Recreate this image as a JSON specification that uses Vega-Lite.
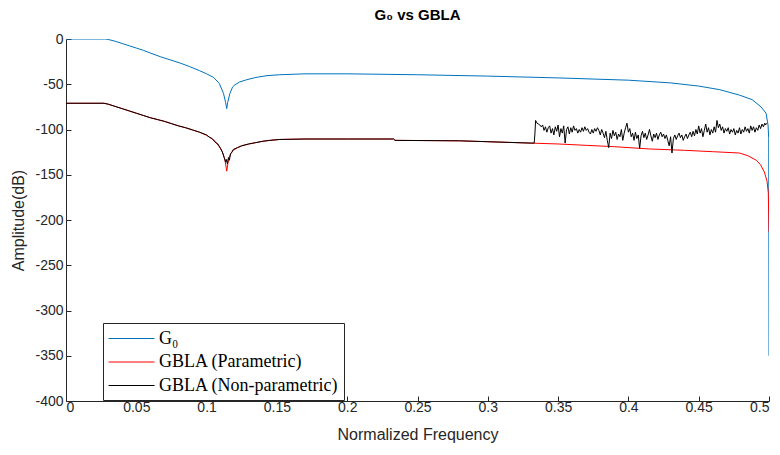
{
  "$schema": "https://vega.github.io/schema/vega-lite/v6.json",
  "autosize": {"type": "none"},
  "width": 703,
  "height": 362,
  "padding": {"left": 66, "top": 39, "right": 11, "bottom": 54},
  "background": "white",
  "title": {"text": "G₀ vs GBLA", "font": "Liberation Sans", "fontSize": 15, "fontWeight": "bold", "color": "black", "anchor": "middle", "offset": 9},
  "config": {
    "view": {"stroke": null},
    "axis": {"grid": false, "domainColor": "#262626", "tickColor": "#262626", "labelColor": "#262626", "titleColor": "#262626", "labelFont": "Liberation Sans", "titleFont": "Liberation Sans", "labelFontSize": 14, "titleFontSize": 16, "titleFontWeight": "normal", "tickSize": -5, "domainWidth": 1, "tickWidth": 1, "labelExpr": "replace(datum.label, '−', '-')"},
    "legend": {"orient": "none", "legendX": 37, "legendY": 284, "strokeColor": "#262626", "fillColor": "white", "padding": 5, "rowPadding": 3.5, "symbolType": "M-1,0H3.6", "symbolSize": 400, "symbolStrokeWidth": 1, "labelFont": "Liberation Serif", "labelFontSize": 18, "labelColor": "black", "labelOffset": 30, "labelLimit": 0, "title": null}
  },
  "data": {"values": [
    {"s":"G₀","f":0,"a":0},{"s":"G₀","f":0.028,"a":0},{"s":"G₀","f":0.03,"a":-0.5},{"s":"G₀","f":0.035,"a":-2.5},{"s":"G₀","f":0.04,"a":-5},{"s":"G₀","f":0.045,"a":-7.5},{"s":"G₀","f":0.05,"a":-10},{"s":"G₀","f":0.055,"a":-12.5},{"s":"G₀","f":0.06,"a":-15.5},{"s":"G₀","f":0.067,"a":-19.5},{"s":"G₀","f":0.074,"a":-23},{"s":"G₀","f":0.081,"a":-26.5},{"s":"G₀","f":0.088,"a":-30.5},{"s":"G₀","f":0.095,"a":-35},{"s":"G₀","f":0.1,"a":-38.5},{"s":"G₀","f":0.105,"a":-42.5},{"s":"G₀","f":0.109,"a":-49},{"s":"G₀","f":0.112,"a":-60},{"s":"G₀","f":0.1135,"a":-70},{"s":"G₀","f":0.1143,"a":-77},{"s":"G₀","f":0.115,"a":-70},{"s":"G₀","f":0.1166,"a":-60},{"s":"G₀","f":0.1185,"a":-53},{"s":"G₀","f":0.1202,"a":-50.5},{"s":"G₀","f":0.1235,"a":-47.5},{"s":"G₀","f":0.1285,"a":-45},{"s":"G₀","f":0.135,"a":-42.5},{"s":"G₀","f":0.143,"a":-40.5},{"s":"G₀","f":0.152,"a":-39.5},{"s":"G₀","f":0.17,"a":-38.5},{"s":"G₀","f":0.2,"a":-38.5},{"s":"G₀","f":0.25,"a":-39.5},{"s":"G₀","f":0.3,"a":-41},{"s":"G₀","f":0.35,"a":-43},{"s":"G₀","f":0.4,"a":-45.5},{"s":"G₀","f":0.43,"a":-48.5},{"s":"G₀","f":0.45,"a":-52},{"s":"G₀","f":0.465,"a":-56},{"s":"G₀","f":0.479,"a":-62},{"s":"G₀","f":0.488,"a":-67},{"s":"G₀","f":0.4943,"a":-75},{"s":"G₀","f":0.4979,"a":-82},{"s":"G₀","f":0.4993,"a":-95},{"s":"G₀","f":0.4998,"a":-110},{"s":"G₀","f":0.5,"a":-350},

    {"s":"GBLA (Parametric)","f":0,"a":-71},{"s":"GBLA (Parametric)","f":0.027,"a":-71},{"s":"GBLA (Parametric)","f":0.03,"a":-72},{"s":"GBLA (Parametric)","f":0.035,"a":-74.5},{"s":"GBLA (Parametric)","f":0.04,"a":-77},{"s":"GBLA (Parametric)","f":0.045,"a":-79.5},{"s":"GBLA (Parametric)","f":0.05,"a":-82},{"s":"GBLA (Parametric)","f":0.055,"a":-84.5},{"s":"GBLA (Parametric)","f":0.06,"a":-87},{"s":"GBLA (Parametric)","f":0.065,"a":-89},{"s":"GBLA (Parametric)","f":0.07,"a":-91},{"s":"GBLA (Parametric)","f":0.075,"a":-93.5},{"s":"GBLA (Parametric)","f":0.08,"a":-96},{"s":"GBLA (Parametric)","f":0.085,"a":-98},{"s":"GBLA (Parametric)","f":0.09,"a":-100.5},{"s":"GBLA (Parametric)","f":0.095,"a":-103},{"s":"GBLA (Parametric)","f":0.1,"a":-106.5},{"s":"GBLA (Parametric)","f":0.103,"a":-109.5},{"s":"GBLA (Parametric)","f":0.106,"a":-113},{"s":"GBLA (Parametric)","f":0.109,"a":-119},{"s":"GBLA (Parametric)","f":0.111,"a":-124},{"s":"GBLA (Parametric)","f":0.113,"a":-133},{"s":"GBLA (Parametric)","f":0.1143,"a":-146},{"s":"GBLA (Parametric)","f":0.1155,"a":-134},{"s":"GBLA (Parametric)","f":0.117,"a":-127},{"s":"GBLA (Parametric)","f":0.119,"a":-123},{"s":"GBLA (Parametric)","f":0.122,"a":-120},{"s":"GBLA (Parametric)","f":0.125,"a":-118},{"s":"GBLA (Parametric)","f":0.13,"a":-116},{"s":"GBLA (Parametric)","f":0.135,"a":-114.5},{"s":"GBLA (Parametric)","f":0.14,"a":-113},{"s":"GBLA (Parametric)","f":0.145,"a":-112},{"s":"GBLA (Parametric)","f":0.152,"a":-111},{"s":"GBLA (Parametric)","f":0.17,"a":-110.5},{"s":"GBLA (Parametric)","f":0.2,"a":-110.5},{"s":"GBLA (Parametric)","f":0.233,"a":-110.5},{"s":"GBLA (Parametric)","f":0.234,"a":-112},{"s":"GBLA (Parametric)","f":0.28,"a":-112.5},{"s":"GBLA (Parametric)","f":0.3,"a":-113.5},{"s":"GBLA (Parametric)","f":0.33,"a":-115},{"s":"GBLA (Parametric)","f":0.35,"a":-116},{"s":"GBLA (Parametric)","f":0.37,"a":-117.5},{"s":"GBLA (Parametric)","f":0.39,"a":-119},{"s":"GBLA (Parametric)","f":0.415,"a":-121.5},{"s":"GBLA (Parametric)","f":0.44,"a":-123},{"s":"GBLA (Parametric)","f":0.46,"a":-124.5},{"s":"GBLA (Parametric)","f":0.479,"a":-126},{"s":"GBLA (Parametric)","f":0.485,"a":-129},{"s":"GBLA (Parametric)","f":0.491,"a":-134},{"s":"GBLA (Parametric)","f":0.494,"a":-139},{"s":"GBLA (Parametric)","f":0.4967,"a":-147},{"s":"GBLA (Parametric)","f":0.4986,"a":-157},{"s":"GBLA (Parametric)","f":0.4995,"a":-170},{"s":"GBLA (Parametric)","f":0.5,"a":-213},

    {"s":"GBLA (Non-parametric)","f":0,"a":-71},{"s":"GBLA (Non-parametric)","f":0.027,"a":-71},{"s":"GBLA (Non-parametric)","f":0.03,"a":-72},{"s":"GBLA (Non-parametric)","f":0.035,"a":-74.5},{"s":"GBLA (Non-parametric)","f":0.04,"a":-77},{"s":"GBLA (Non-parametric)","f":0.045,"a":-79.5},{"s":"GBLA (Non-parametric)","f":0.05,"a":-82},{"s":"GBLA (Non-parametric)","f":0.055,"a":-84.5},{"s":"GBLA (Non-parametric)","f":0.06,"a":-87},{"s":"GBLA (Non-parametric)","f":0.065,"a":-89},{"s":"GBLA (Non-parametric)","f":0.07,"a":-91},{"s":"GBLA (Non-parametric)","f":0.075,"a":-93.5},{"s":"GBLA (Non-parametric)","f":0.08,"a":-96},{"s":"GBLA (Non-parametric)","f":0.085,"a":-98},{"s":"GBLA (Non-parametric)","f":0.09,"a":-100.5},{"s":"GBLA (Non-parametric)","f":0.095,"a":-103},{"s":"GBLA (Non-parametric)","f":0.1,"a":-106},{"s":"GBLA (Non-parametric)","f":0.102,"a":-108.5},{"s":"GBLA (Non-parametric)","f":0.104,"a":-110},{"s":"GBLA (Non-parametric)","f":0.106,"a":-114},{"s":"GBLA (Non-parametric)","f":0.108,"a":-116},{"s":"GBLA (Non-parametric)","f":0.11,"a":-121},{"s":"GBLA (Non-parametric)","f":0.1115,"a":-126},{"s":"GBLA (Non-parametric)","f":0.1125,"a":-131},{"s":"GBLA (Non-parametric)","f":0.1135,"a":-136},{"s":"GBLA (Non-parametric)","f":0.114,"a":-133},{"s":"GBLA (Non-parametric)","f":0.1148,"a":-138},{"s":"GBLA (Non-parametric)","f":0.1155,"a":-131},{"s":"GBLA (Non-parametric)","f":0.1162,"a":-134},{"s":"GBLA (Non-parametric)","f":0.117,"a":-127},{"s":"GBLA (Non-parametric)","f":0.118,"a":-125},{"s":"GBLA (Non-parametric)","f":0.119,"a":-122},{"s":"GBLA (Non-parametric)","f":0.122,"a":-120},{"s":"GBLA (Non-parametric)","f":0.125,"a":-118},{"s":"GBLA (Non-parametric)","f":0.13,"a":-116},{"s":"GBLA (Non-parametric)","f":0.135,"a":-114.5},{"s":"GBLA (Non-parametric)","f":0.14,"a":-113},{"s":"GBLA (Non-parametric)","f":0.145,"a":-112},{"s":"GBLA (Non-parametric)","f":0.152,"a":-111},{"s":"GBLA (Non-parametric)","f":0.17,"a":-110.5},{"s":"GBLA (Non-parametric)","f":0.2,"a":-110.5},{"s":"GBLA (Non-parametric)","f":0.233,"a":-110.5},{"s":"GBLA (Non-parametric)","f":0.234,"a":-112},{"s":"GBLA (Non-parametric)","f":0.28,"a":-112.5},{"s":"GBLA (Non-parametric)","f":0.3,"a":-113.5},{"s":"GBLA (Non-parametric)","f":0.33,"a":-115},
    {"s":"GBLA (Non-parametric)","f":0.333,"a":-115},{"s":"GBLA (Non-parametric)","f":0.3335,"a":-105},{"s":"GBLA (Non-parametric)","f":0.334,"a":-90},{"s":"GBLA (Non-parametric)","f":0.335,"a":-93},{"s":"GBLA (Non-parametric)","f":0.336,"a":-94},{"s":"GBLA (Non-parametric)","f":0.337,"a":-95},{"s":"GBLA (Non-parametric)","f":0.338,"a":-97},{"s":"GBLA (Non-parametric)","f":0.339,"a":-95},{"s":"GBLA (Non-parametric)","f":0.34,"a":-101},{"s":"GBLA (Non-parametric)","f":0.341,"a":-97},{"s":"GBLA (Non-parametric)","f":0.342,"a":-103},{"s":"GBLA (Non-parametric)","f":0.343,"a":-98},{"s":"GBLA (Non-parametric)","f":0.344,"a":-96},{"s":"GBLA (Non-parametric)","f":0.345,"a":-104},{"s":"GBLA (Non-parametric)","f":0.346,"a":-99},{"s":"GBLA (Non-parametric)","f":0.347,"a":-106},{"s":"GBLA (Non-parametric)","f":0.348,"a":-97},{"s":"GBLA (Non-parametric)","f":0.349,"a":-102},{"s":"GBLA (Non-parametric)","f":0.35,"a":-95},{"s":"GBLA (Non-parametric)","f":0.351,"a":-108},{"s":"GBLA (Non-parametric)","f":0.352,"a":-99},{"s":"GBLA (Non-parametric)","f":0.353,"a":-104},{"s":"GBLA (Non-parametric)","f":0.354,"a":-96},{"s":"GBLA (Non-parametric)","f":0.355,"a":-115},{"s":"GBLA (Non-parametric)","f":0.356,"a":-100},{"s":"GBLA (Non-parametric)","f":0.357,"a":-97},{"s":"GBLA (Non-parametric)","f":0.358,"a":-105},{"s":"GBLA (Non-parametric)","f":0.359,"a":-98},{"s":"GBLA (Non-parametric)","f":0.36,"a":-103},{"s":"GBLA (Non-parametric)","f":0.361,"a":-96},{"s":"GBLA (Non-parametric)","f":0.362,"a":-101},{"s":"GBLA (Non-parametric)","f":0.363,"a":-99},{"s":"GBLA (Non-parametric)","f":0.364,"a":-104},{"s":"GBLA (Non-parametric)","f":0.365,"a":-100},{"s":"GBLA (Non-parametric)","f":0.366,"a":-103},{"s":"GBLA (Non-parametric)","f":0.367,"a":-98},{"s":"GBLA (Non-parametric)","f":0.368,"a":-102},{"s":"GBLA (Non-parametric)","f":0.369,"a":-97},{"s":"GBLA (Non-parametric)","f":0.37,"a":-101},{"s":"GBLA (Non-parametric)","f":0.371,"a":-99},{"s":"GBLA (Non-parametric)","f":0.372,"a":-103},{"s":"GBLA (Non-parametric)","f":0.373,"a":-105},{"s":"GBLA (Non-parametric)","f":0.374,"a":-100},{"s":"GBLA (Non-parametric)","f":0.375,"a":-104},{"s":"GBLA (Non-parametric)","f":0.376,"a":-99},{"s":"GBLA (Non-parametric)","f":0.377,"a":-102},{"s":"GBLA (Non-parametric)","f":0.378,"a":-98},{"s":"GBLA (Non-parametric)","f":0.379,"a":-101},{"s":"GBLA (Non-parametric)","f":0.38,"a":-106},{"s":"GBLA (Non-parametric)","f":0.381,"a":-100},{"s":"GBLA (Non-parametric)","f":0.382,"a":-104},{"s":"GBLA (Non-parametric)","f":0.383,"a":-109},{"s":"GBLA (Non-parametric)","f":0.384,"a":-102},{"s":"GBLA (Non-parametric)","f":0.385,"a":-112},{"s":"GBLA (Non-parametric)","f":0.386,"a":-120},{"s":"GBLA (Non-parametric)","f":0.387,"a":-104},{"s":"GBLA (Non-parametric)","f":0.388,"a":-110},{"s":"GBLA (Non-parametric)","f":0.389,"a":-101},{"s":"GBLA (Non-parametric)","f":0.39,"a":-107},{"s":"GBLA (Non-parametric)","f":0.391,"a":-103},{"s":"GBLA (Non-parametric)","f":0.392,"a":-111},{"s":"GBLA (Non-parametric)","f":0.393,"a":-105},{"s":"GBLA (Non-parametric)","f":0.394,"a":-108},{"s":"GBLA (Non-parametric)","f":0.395,"a":-100},{"s":"GBLA (Non-parametric)","f":0.396,"a":-112},{"s":"GBLA (Non-parametric)","f":0.397,"a":-104},{"s":"GBLA (Non-parametric)","f":0.398,"a":-98},{"s":"GBLA (Non-parametric)","f":0.399,"a":-93},{"s":"GBLA (Non-parametric)","f":0.4,"a":-103},{"s":"GBLA (Non-parametric)","f":0.401,"a":-99},{"s":"GBLA (Non-parametric)","f":0.402,"a":-108},{"s":"GBLA (Non-parametric)","f":0.403,"a":-104},{"s":"GBLA (Non-parametric)","f":0.404,"a":-112},{"s":"GBLA (Non-parametric)","f":0.405,"a":-103},{"s":"GBLA (Non-parametric)","f":0.406,"a":-110},{"s":"GBLA (Non-parametric)","f":0.407,"a":-106},{"s":"GBLA (Non-parametric)","f":0.408,"a":-121},{"s":"GBLA (Non-parametric)","f":0.409,"a":-107},{"s":"GBLA (Non-parametric)","f":0.41,"a":-102},{"s":"GBLA (Non-parametric)","f":0.411,"a":-109},{"s":"GBLA (Non-parametric)","f":0.412,"a":-104},{"s":"GBLA (Non-parametric)","f":0.413,"a":-111},{"s":"GBLA (Non-parametric)","f":0.414,"a":-106},{"s":"GBLA (Non-parametric)","f":0.415,"a":-100},{"s":"GBLA (Non-parametric)","f":0.416,"a":-107},{"s":"GBLA (Non-parametric)","f":0.417,"a":-113},{"s":"GBLA (Non-parametric)","f":0.418,"a":-105},{"s":"GBLA (Non-parametric)","f":0.419,"a":-109},{"s":"GBLA (Non-parametric)","f":0.42,"a":-104},{"s":"GBLA (Non-parametric)","f":0.421,"a":-111},{"s":"GBLA (Non-parametric)","f":0.422,"a":-106},{"s":"GBLA (Non-parametric)","f":0.423,"a":-103},{"s":"GBLA (Non-parametric)","f":0.424,"a":-108},{"s":"GBLA (Non-parametric)","f":0.425,"a":-105},{"s":"GBLA (Non-parametric)","f":0.426,"a":-110},{"s":"GBLA (Non-parametric)","f":0.427,"a":-106},{"s":"GBLA (Non-parametric)","f":0.428,"a":-112},{"s":"GBLA (Non-parametric)","f":0.429,"a":-118},{"s":"GBLA (Non-parametric)","f":0.43,"a":-108},{"s":"GBLA (Non-parametric)","f":0.431,"a":-126},{"s":"GBLA (Non-parametric)","f":0.432,"a":-110},{"s":"GBLA (Non-parametric)","f":0.433,"a":-106},{"s":"GBLA (Non-parametric)","f":0.434,"a":-111},{"s":"GBLA (Non-parametric)","f":0.435,"a":-107},{"s":"GBLA (Non-parametric)","f":0.436,"a":-104},{"s":"GBLA (Non-parametric)","f":0.437,"a":-109},{"s":"GBLA (Non-parametric)","f":0.438,"a":-106},{"s":"GBLA (Non-parametric)","f":0.439,"a":-112},{"s":"GBLA (Non-parametric)","f":0.44,"a":-108},{"s":"GBLA (Non-parametric)","f":0.441,"a":-105},{"s":"GBLA (Non-parametric)","f":0.442,"a":-110},{"s":"GBLA (Non-parametric)","f":0.443,"a":-106},{"s":"GBLA (Non-parametric)","f":0.444,"a":-103},{"s":"GBLA (Non-parametric)","f":0.445,"a":-108},{"s":"GBLA (Non-parametric)","f":0.446,"a":-102},{"s":"GBLA (Non-parametric)","f":0.447,"a":-107},{"s":"GBLA (Non-parametric)","f":0.448,"a":-100},{"s":"GBLA (Non-parametric)","f":0.449,"a":-105},{"s":"GBLA (Non-parametric)","f":0.45,"a":-96},{"s":"GBLA (Non-parametric)","f":0.451,"a":-104},{"s":"GBLA (Non-parametric)","f":0.452,"a":-99},{"s":"GBLA (Non-parametric)","f":0.453,"a":-108},{"s":"GBLA (Non-parametric)","f":0.454,"a":-101},{"s":"GBLA (Non-parametric)","f":0.455,"a":-94},{"s":"GBLA (Non-parametric)","f":0.456,"a":-103},{"s":"GBLA (Non-parametric)","f":0.457,"a":-98},{"s":"GBLA (Non-parametric)","f":0.458,"a":-106},{"s":"GBLA (Non-parametric)","f":0.459,"a":-100},{"s":"GBLA (Non-parametric)","f":0.46,"a":-104},{"s":"GBLA (Non-parametric)","f":0.461,"a":-97},{"s":"GBLA (Non-parametric)","f":0.462,"a":-103},{"s":"GBLA (Non-parametric)","f":0.463,"a":-90},{"s":"GBLA (Non-parametric)","f":0.464,"a":-98},{"s":"GBLA (Non-parametric)","f":0.465,"a":-94},{"s":"GBLA (Non-parametric)","f":0.466,"a":-101},{"s":"GBLA (Non-parametric)","f":0.467,"a":-97},{"s":"GBLA (Non-parametric)","f":0.468,"a":-104},{"s":"GBLA (Non-parametric)","f":0.469,"a":-99},{"s":"GBLA (Non-parametric)","f":0.47,"a":-102},{"s":"GBLA (Non-parametric)","f":0.471,"a":-98},{"s":"GBLA (Non-parametric)","f":0.472,"a":-105},{"s":"GBLA (Non-parametric)","f":0.473,"a":-100},{"s":"GBLA (Non-parametric)","f":0.474,"a":-103},{"s":"GBLA (Non-parametric)","f":0.475,"a":-99},{"s":"GBLA (Non-parametric)","f":0.476,"a":-106},{"s":"GBLA (Non-parametric)","f":0.477,"a":-101},{"s":"GBLA (Non-parametric)","f":0.478,"a":-104},{"s":"GBLA (Non-parametric)","f":0.479,"a":-98},{"s":"GBLA (Non-parametric)","f":0.48,"a":-105},{"s":"GBLA (Non-parametric)","f":0.481,"a":-100},{"s":"GBLA (Non-parametric)","f":0.482,"a":-103},{"s":"GBLA (Non-parametric)","f":0.483,"a":-97},{"s":"GBLA (Non-parametric)","f":0.484,"a":-102},{"s":"GBLA (Non-parametric)","f":0.485,"a":-99},{"s":"GBLA (Non-parametric)","f":0.486,"a":-104},{"s":"GBLA (Non-parametric)","f":0.487,"a":-96},{"s":"GBLA (Non-parametric)","f":0.488,"a":-101},{"s":"GBLA (Non-parametric)","f":0.489,"a":-97},{"s":"GBLA (Non-parametric)","f":0.49,"a":-103},{"s":"GBLA (Non-parametric)","f":0.491,"a":-98},{"s":"GBLA (Non-parametric)","f":0.492,"a":-101},{"s":"GBLA (Non-parametric)","f":0.493,"a":-95},{"s":"GBLA (Non-parametric)","f":0.494,"a":-99},{"s":"GBLA (Non-parametric)","f":0.495,"a":-94},{"s":"GBLA (Non-parametric)","f":0.496,"a":-97},{"s":"GBLA (Non-parametric)","f":0.497,"a":-93},{"s":"GBLA (Non-parametric)","f":0.4975,"a":-95},{"s":"GBLA (Non-parametric)","f":0.4985,"a":-93}
  ]},
  "encoding": {
    "x": {"field": "f", "type": "quantitative", "scale": {"domain": [0, 0.5], "nice": false, "zero": false},
      "axis": {"title": "Normalized Frequency", "values": [0, 0.05, 0.1, 0.15, 0.2, 0.25, 0.3, 0.35, 0.4, 0.45, 0.5], "format": ".2~f", "labelPadding": 4, "titlePadding": 12}},
    "y": {"field": "a", "type": "quantitative", "scale": {"domain": [-400, 0], "nice": false, "zero": false},
      "axis": {"title": "Amplitude(dB)", "values": [-400, -350, -300, -250, -200, -150, -100, -50, 0], "labelPadding": 8, "titlePadding": 8}},
    "color": {"field": "s", "type": "nominal",
      "scale": {"domain": ["G₀", "GBLA (Parametric)", "GBLA (Non-parametric)"], "range": ["#0072BD", "#FF0000", "#000000"]},
      "legend": {"symbolType": "M-1,0H3.6", "symbolSize": 400, "labelLimit": 0}}
  },
  "layer": [
    {"transform": [{"filter": "datum.s === 'G₀'"}], "mark": {"type": "line", "strokeWidth": 1, "clip": true}},
    {"transform": [{"filter": "datum.s === 'GBLA (Parametric)'"}], "mark": {"type": "line", "strokeWidth": 1, "clip": true}},
    {"transform": [{"filter": "datum.s === 'GBLA (Non-parametric)'"}], "mark": {"type": "line", "strokeWidth": 1, "clip": true}}
  ]
}
